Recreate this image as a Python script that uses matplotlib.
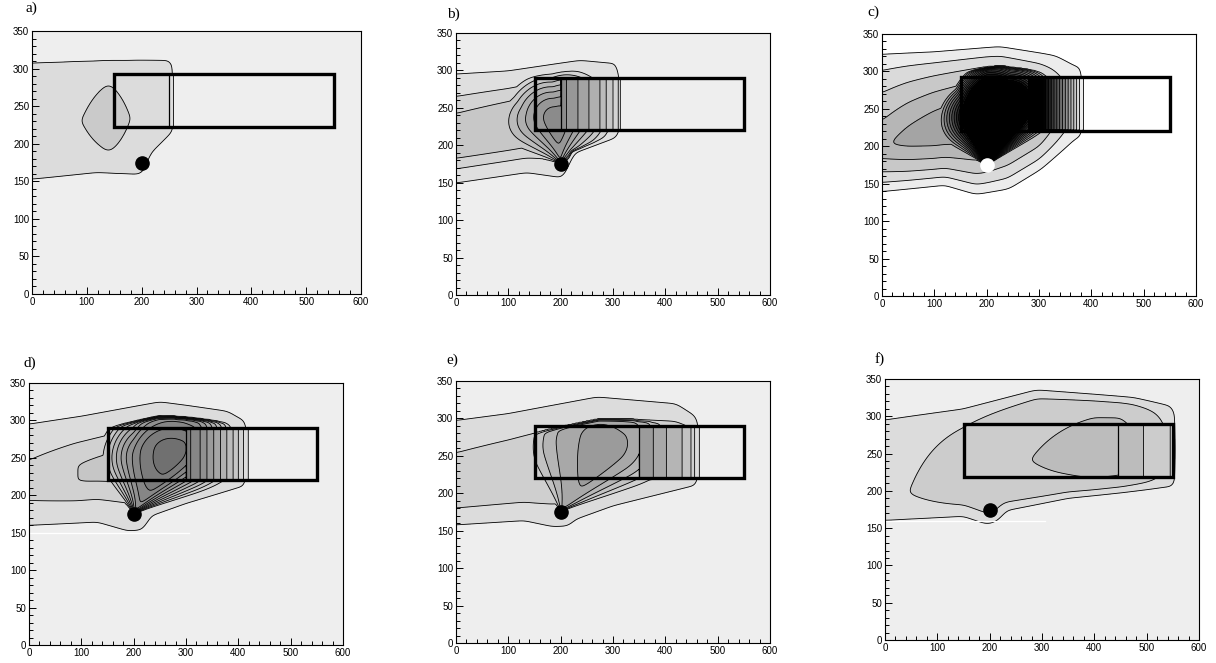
import numpy as np
import matplotlib
matplotlib.use("Agg")
import matplotlib.pyplot as plt

# ---------------- data ----------------
panel_labels = ["a)", "b)", "c)", "d)", "e)", "f)"]

# axes boxes in pixels (left, top, right, bottom) of the 1216x663 figure
ax_left   = [32, 456, 882, 29, 456, 885]
ax_top    = [31, 33, 34, 383, 381, 379]
ax_right  = [361, 770, 1196, 343, 770, 1199]
ax_bottom = [294, 295, 296, 645, 643, 640]
label_x   = [25, 447, 867, 24, 446, 875]
label_y   = [8, 14, 12, 363, 360, 359]

# plume upper edge (outermost contour) knots
top_x = [[0, 120, 240, 600], [0, 100, 237, 300, 600], [0, 100, 225, 330, 370, 600],
         [0, 100, 250, 380, 410, 600], [0, 100, 270, 420, 460, 600],
         [0, 150, 290, 474, 545, 560, 600]]
top_y = [[304, 306, 308, 308], [294, 298, 312, 308, 308], [319, 322, 329, 318, 305, 305],
         [295, 305, 324, 312, 300, 300], [296, 305, 327, 318, 300, 300],
         [291, 305, 330, 320, 310, 300, 300]]
# plume lower edge knots
bot_x = [[0, 120, 200, 215, 255, 600], [0, 135, 205, 222, 310, 600],
         [0, 120, 180, 240, 300, 372, 600], [0, 130, 190, 220, 228, 300, 414, 600],
         [0, 130, 185, 215, 225, 300, 455, 600], [0, 150, 195, 210, 230, 350, 538, 600]]
bot_y = [[156, 166, 163, 190, 216, 216], [151, 165, 158, 190, 213, 213],
         [143, 152, 140, 147, 172, 213, 213], [160, 165, 153, 155, 172, 190, 213, 213],
         [159, 165, 157, 158, 166, 185, 212, 212], [163, 170, 160, 163, 178, 195, 209, 209]]
# plume centre line knots
mid_x = [[0, 150, 600], [0, 190, 600], [0, 230, 600], [0, 290, 600], [0, 320, 600],
         [0, 45, 277, 450, 600]]
mid_y = [[228, 232, 255], [205, 238, 255], [200, 245, 255], [215, 258, 262], [205, 255, 258],
         [195, 197, 241, 255, 255]]
# background plume concentration (contour-level units) along the centre line
amp_x = [[0, 90, 140, 180, 250, 258, 262],
         [0, 100, 200, 300, 313, 318],
         [0, 50, 100, 200, 300, 380, 385, 392],
         [0, 91, 200, 300, 410, 419, 425],
         [0, 150, 300, 449, 456, 465, 470],
         [0, 45, 277, 400, 450, 494, 545, 555, 562]]
amp_v = [[1.6, 2.0, 2.3, 2.0, 1.5, 1.0, 0.5],
         [3.3, 3.6, 3.8, 3.5, 1.0, 0.0],
         [4.8, 5.5, 6.0, 6.5, 5.0, 1.5, 1.0, 0.0],
         [2.4, 3.0, 3.3, 3.3, 2.0, 1.0, 0.0],
         [2.3, 2.6, 2.7, 2.7, 2.0, 1.0, 0.0],
         [1.8, 2.0, 3.0, 3.6, 3.6, 3.0, 2.0, 1.0, 0.0]]
ramp_w = [1.0, 0.65, 1.0, 0.8, 0.6, 1.0]
ramp_p = [0.25, 1.2, 0.7, 1.2, 1.0, 0.25]
n_levels = [2, 8, 26, 11, 6, 3]

# level boundaries along the block, right of its internal boundary (vertical contours)
front_x = [[250, 258, 262], [200, 211, 233, 254, 275, 287, 300, 310, 316],
           [280, 380, 385, 392], [300, 327, 340, 353, 366, 378, 390, 400, 410, 419, 425],
           [350, 377, 402, 432, 449, 456, 465, 470], [446, 494, 545, 555, 562]]
front_v = [[1.5, 1.0, 0.5], [8.5, 8.0, 7.0, 6.0, 5.0, 4.0, 3.0, 2.0, 0.5],
           [20.0, 1.5, 1.0, 0.0], [10.5, 9, 8, 7, 6, 5, 4, 3, 2, 1, 0],
           [6.5, 6, 5, 4, 3, 2, 1, 0], [3.6, 3.0, 2.0, 1.0, 0.0]]

# fan of contours leaving the release point (polar description around the source)
source_xy = (200, 175)
fan_peak   = [0, 8.6, 26, 11.5, 6.4, 0]
fan_lo_deg = [0, 12, 15, 10, 10, 0]
fan_c_deg  = [0, 98, 70, 45, 40, 0]
fan_hi_deg = [0, 178, 175, 150, 150, 0]
fan_gpow   = [1, 0.8, 1.2, 0.9, 0.7, 1]
fan_h0     = [0, 0.8, 0.9, 0.7, 0.85, 0]
fan_rho0   = [0.5, 0.45, 0.45, 0.5, 0.5, 0.5]
fan_top_s  = [1, 0.9, 0.75, 0.75, 0.65, 1]
fan_r_deg  = [[0, 180], [15, 45, 98, 135, 178], [15, 45, 70, 90, 120, 175],
              [10, 45, 90, 150], [10, 40, 80, 150], [0, 180]]
fan_r_len  = [[1, 1], [130, 150, 133, 150, 200], [200, 175, 150, 150, 130, 150],
              [240, 230, 150, 115], [280, 262, 200, 125], [1, 1]]

# building block and internal block boundary
rect_x = (150, 550)
rect_y0 = [222, 220, 221, 220, 220, 218]
rect_y1 = [293, 290, 292, 290, 290, 290]
split_x = [250, 200, 280, 300, 350, 446]
split_drawn = [True, True, False, True, True, True]

# shading
first_gray = [220, 223, 236, 220, 220, 220]
gray_step  = [18, 12, 18, 10.8, 13, 16]
bg_color   = ["#eeeeee", "#eeeeee", "#ffffff", "#eeeeee", "#eeeeee", "#eeeeee"]
dot_color  = ["black", "black", "white", "black", "black", "black"]
white_line_y = [None, None, None, 150, None, 160]
white_line_x1 = [0, 0, 0, 305, 0, 305]

x_ticks = [0, 100, 200, 300, 400, 500, 600]
y_ticks = [0, 50, 100, 150, 200, 250, 300, 350]

# ---------------- field construction ----------------
W_PX, H_PX = 1216, 663
gx = np.linspace(0, 600, 601)
gy = np.linspace(0, 350, 351)
X, Y = np.meshgrid(gx, gy)


def band_field(Xa, Ya, i):
    top = np.interp(Xa, top_x[i], top_y[i])
    bot = np.interp(Xa, bot_x[i], bot_y[i])
    mid = np.interp(Xa, mid_x[i], mid_y[i])
    A = np.interp(Xa, amp_x[i], amp_v[i])
    upper = Ya >= mid
    s = np.where(upper, (Ya - mid) / (top - mid), (mid - Ya) / (mid - bot))
    q = np.clip((1 - s) / ramp_w[i], 0, 1) ** ramp_p[i]
    inside = 1 + (A - 1) * q
    F = np.where(A > 1, np.where(s < 1, inside, 1 - (s - 1)),
                 A - np.clip(s - 1, 0, None))
    return F, s, upper


def fan_field(Xa, Ya, i):
    if fan_peak[i] <= 0:
        return np.full_like(Xa, -2.0)
    dx, dy = Xa - source_xy[0], Ya - source_xy[1]
    r = np.hypot(dx, dy)
    th = np.degrees(np.arctan2(dy, dx))
    th = np.where(th < -90, th + 360, th)
    lo, c, hi = fan_lo_deg[i], fan_c_deg[i], fan_hi_deg[i]
    u = np.where(th < c, (th - lo) / (c - lo), (hi - th) / (hi - c))
    u = np.clip(u, 0, 1)
    G = np.sin(0.5 * np.pi * u) ** fan_gpow[i]
    R = np.interp(th, fan_r_deg[i], fan_r_len[i])
    rho = r / R
    rho0, h0 = fan_rho0[i], fan_h0[i]
    H = np.where(rho < rho0,
                 h0 + (1 - h0) * np.sin(0.5 * np.pi * rho / rho0),
                 np.cos(0.5 * np.pi * np.clip((rho - rho0) / (1 - rho0), 0, 1)))
    P = fan_peak[i] * G * H
    return np.where((u > 0) & (rho < 1), P, -2.0)


def smooth1d(a, sigma, axis):
    rr = int(3 * sigma)
    k = np.exp(-0.5 * (np.arange(-rr, rr + 1) / sigma) ** 2)
    k /= k.sum()
    pad = [(0, 0)] * a.ndim
    pad[axis] = (rr, rr)
    ap = np.pad(a, pad, mode="edge")
    return np.apply_along_axis(lambda v: np.convolve(v, k, mode="valid"), axis, ap)


def field(i):
    B, s, upper = band_field(X, Y, i)
    B = smooth1d(smooth1d(np.maximum(B, -2.0), 7.0, 1), 4.0, 0)
    P = fan_field(X, Y, i)
    keep = np.where(upper, s < fan_top_s[i], s < 1.0)
    P = np.where(keep, P, -2.0)
    P = smooth1d(smooth1d(P, 2.5, 1), 2.5, 0)
    F = np.maximum(B, P)
    fc = np.interp(gx, front_x[i], front_v[i])
    Fc = np.broadcast_to(fc, X.shape)
    mask = (X > split_x[i]) & (X < rect_x[1]) & (Y > rect_y0[i]) & (Y < rect_y1[i])
    return np.where(mask, Fc, F)


fig = plt.figure(figsize=(W_PX / 100, H_PX / 100), dpi=100)
plt.rcParams["font.family"] = ["Liberation Sans", "DejaVu Sans"]

for i in range(6):
    l, t, r, b = ax_left[i], ax_top[i], ax_right[i], ax_bottom[i]
    ax = fig.add_axes([l / W_PX, 1 - b / H_PX, (r - l) / W_PX, (b - t) / H_PX])
    ax.set_facecolor(bg_color[i])
    F = field(i)
    n = n_levels[i]
    levels = list(np.arange(1, n + 1)) + [1e6]
    cols = []
    for k in range(n):
        g = max(0.0, first_gray[i] - gray_step[i] * k) / 255.0
        cols.append((g, g, g))
    ax.contourf(X, Y, F, levels=levels, colors=cols)
    ax.contour(X, Y, F, levels=np.arange(1, n + 1), colors="black", linewidths=0.6)
    if white_line_y[i] is not None:
        ax.plot([0, white_line_x1[i]], [white_line_y[i]] * 2, color="white", lw=0.9)
    if split_drawn[i]:
        ax.plot([split_x[i]] * 2, [rect_y0[i], rect_y1[i]], color="black", lw=0.9)
    ax.add_patch(plt.Rectangle((rect_x[0], rect_y0[i]), rect_x[1] - rect_x[0],
                               rect_y1[i] - rect_y0[i], fill=False, ec="black", lw=2.4,
                               zorder=5))
    ax.plot([source_xy[0]], [source_xy[1]], "o", ms=9.5, mfc=dot_color[i],
            mec=dot_color[i], zorder=6)
    ax.set_xlim(0, 600)
    ax.set_ylim(0, 350)
    ax.set_xticks(x_ticks)
    ax.set_yticks(y_ticks)
    ax.set_xticks(np.arange(0, 601, 20), minor=True)
    ax.set_yticks(np.arange(0, 351, 10), minor=True)
    ax.tick_params(which="both", direction="in", top=False, right=False,
                   labelsize=7, width=0.7, pad=2)
    ax.tick_params(which="major", length=5.2)
    ax.tick_params(which="minor", length=3)
    for sp in ax.spines.values():
        sp.set_linewidth(0.8)
    fig.text(label_x[i] / W_PX, 1 - label_y[i] / H_PX, panel_labels[i],
             family=["Liberation Serif", "DejaVu Serif"], fontsize=11,
             ha="left", va="center")

fig.savefig("out.png", dpi=100)
